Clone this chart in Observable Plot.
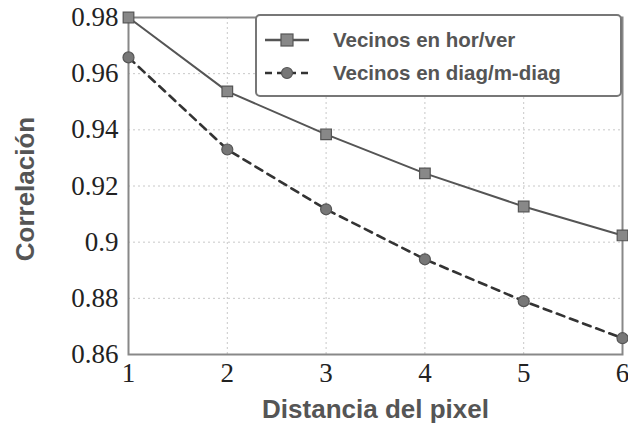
<!DOCTYPE html>
<html><head><meta charset="utf-8">
<script src="https://cdn.jsdelivr.net/npm/d3@7"></script>
<script src="https://cdn.jsdelivr.net/npm/@observablehq/plot@0.6"></script>
<style>
html,body{margin:0;padding:0;background:#fff;}
#wrap{position:relative;width:628px;height:436px;}
#legend{position:absolute;left:255px;top:14px;width:367px;height:83px;border:2px solid #777;border-radius:5px;background:#fff;font-family:"Liberation Sans",Arial,sans-serif;font-weight:bold;font-size:20.5px;color:#555;box-sizing:border-box;}
.row{position:absolute;left:6px;height:24px;display:flex;align-items:center;white-space:nowrap;}
.row svg{margin-right:22px;flex:none;}
</style></head>
<body><div id="wrap"></div>
<script>
const distances = [1, 2, 3, 4, 5, 6];
const horVer = [0.980, 0.9537, 0.9384, 0.9245, 0.9127, 0.9024];
const diagMdiag = [0.9658, 0.9330, 0.9117, 0.8939, 0.8790, 0.8658];
const seriesNames = ["Vecinos en hor/ver", "Vecinos en diag/m-diag"];
const yTicks = [0.86, 0.88, 0.9, 0.92, 0.94, 0.96, 0.98];
const xTicks = [1, 2, 3, 4, 5, 6];

const s1 = distances.map((d, i) => ({x: d, y: horVer[i]}));
const s2 = distances.map((d, i) => ({x: d, y: diagMdiag[i]}));

const chart = Plot.plot({
  width: 628, height: 436,
  marginLeft: 128, marginRight: 6, marginTop: 17, marginBottom: 82,
  style: {fontFamily: "'Liberation Serif', serif", fontSize: "27px", color: "#222", background: "#fff", overflow: "visible"},
  x: {domain: [1, 6]},
  y: {domain: [0.86, 0.98]},
  marks: [
    Plot.gridX(xTicks.slice(1, -1), {stroke: "#c8c8c8", strokeOpacity: 1, strokeDasharray: "2,3", strokeWidth: 1}),
    Plot.gridY(yTicks.slice(1, -1), {stroke: "#c8c8c8", strokeOpacity: 1, strokeDasharray: "2,3", strokeWidth: 1}),
    Plot.axisX(xTicks, {tickSize: 0, tickPadding: 8, label: null, fontSize: 27, tickFormat: d => String(d)}),
    Plot.axisY(yTicks, {tickSize: 0, tickPadding: 10, label: null, fontSize: 27, tickFormat: d => String(+d.toFixed(2))}),
    Plot.frame({stroke: "#888", strokeWidth: 2}),
    Plot.line(s2, {x: "x", y: "y", stroke: "#333", strokeWidth: 2.6, strokeDasharray: "8,6"}),
    Plot.dot(s2, {x: "x", y: "y", r: 5.5, fill: "#777", stroke: "#555", strokeWidth: 1.2}),
    Plot.line(s1, {x: "x", y: "y", stroke: "#555", strokeWidth: 2}),
    Plot.dot(s1, {x: "x", y: "y", symbol: "square", r: 6, fill: "#888", stroke: "#555", strokeWidth: 1.2}),
    Plot.text(["Distancia del pixel"], {frameAnchor: "bottom", dy: 63, fontFamily: "'Liberation Sans', Arial, sans-serif", fontWeight: "bold", fontSize: 26, fill: "#555"}),
    Plot.text(["Correlación"], {frameAnchor: "left", textAnchor: "middle", dx: -103, dy: 3, rotate: -90, fontFamily: "'Liberation Sans', Arial, sans-serif", fontWeight: "bold", fontSize: 26, fill: "#555"})
  ]
});
const wrap = document.getElementById("wrap");
wrap.appendChild(chart);

const legend = document.createElement("div");
legend.id = "legend";
const styles = [
  {dash: null, sym: "square", stroke: "#555", fill: "#888"},
  {dash: "7,5", sym: "circle", stroke: "#333", fill: "#777"}
];
seriesNames.forEach((name, i) => {
  const row = document.createElement("div");
  row.className = "row";
  row.style.top = (i === 0 ? 12 : 45) + "px";
  const st = styles[i];
  const marker = st.sym === "square"
    ? `<rect x="18" y="6" width="12" height="12" fill="${st.fill}" stroke="#555" stroke-width="1.2"/>`
    : `<circle cx="24" cy="12" r="5.5" fill="${st.fill}" stroke="#555" stroke-width="1.2"/>`;
  row.innerHTML = `<svg width="48" height="24"><line x1="2" y1="12" x2="46" y2="12" stroke="${st.stroke}" stroke-width="2.4" ${st.dash ? `stroke-dasharray="${st.dash}"` : ""}/>${marker}</svg><span>${name}</span>`;
  legend.appendChild(row);
});
wrap.appendChild(legend);
</script></body></html>
